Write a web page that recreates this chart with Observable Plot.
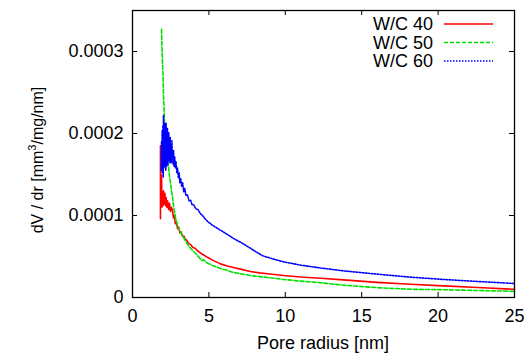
<!DOCTYPE html>
<html>
<head>
<meta charset="utf-8">
<script src="https://cdn.jsdelivr.net/npm/d3@7"></script>
<script src="https://cdn.jsdelivr.net/npm/@observablehq/plot@0.6"></script>
<style>
  html, body { margin: 0; padding: 0; background: #fff; }
  #chart svg { display: block; font-family: "Liberation Sans", Arial, Helvetica, sans-serif; }
</style>
</head>
<body>
<div id="chart"></div>
<script>
// ---- data ----
const seriesNames = ["W/C 40", "W/C 50", "W/C 60"];
const xTicks = [0, 5, 10, 15, 20, 25];
const yTicks = [0, 0.0001, 0.0002, 0.0003];
const yTickLabels = ["0", "0.0001", "0.0002", "0.0003"];

const r40 = [1.83, 1.83, 1.86, 1.90, 1.93, 1.96, 2.00, 2.03, 2.08, 2.12, 2.16, 2.20, 2.25, 2.30, 2.36, 2.42, 2.49, 2.55, 2.62, 2.68, 2.74, 2.80, 2.87, 2.95, 3.02, 3.10, 3.18, 3.27, 3.36, 3.45, 3.55, 3.66, 3.80, 3.95, 4.10, 4.25, 4.55, 4.91, 5.3, 5.76, 6.2, 6.61, 7.2, 7.72, 8.3, 8.84, 9.88, 11.0, 12.3, 13.8, 16.0, 18.2, 20.35, 22.6, 25.0];
const dv40 = [0.96e-4, 1.85e-4, 1.20e-4, 1.49e-4, 1.10e-4, 1.28e-4, 1.12e-4, 1.30e-4, 1.14e-4, 1.27e-4, 1.12e-4, 1.22e-4, 1.10e-4, 1.18e-4, 1.07e-4, 1.15e-4, 1.05e-4, 1.10e-4, 1.06e-4, 0.97e-4, 1.00e-4, 0.90e-4, 0.92e-4, 0.84e-4, 0.86e-4, 0.79e-4, 0.80e-4, 0.75e-4, 0.75e-4, 0.71e-4, 0.70e-4, 0.66e-4, 0.645e-4, 0.61e-4, 0.60e-4, 0.57e-4, 0.53e-4, 0.49e-4, 0.45e-4, 0.41e-4, 0.385e-4, 0.366e-4, 0.34e-4, 0.317e-4, 0.30e-4, 0.29e-4, 0.268e-4, 0.25e-4, 0.235e-4, 0.215e-4, 0.185e-4, 0.162e-4, 0.142e-4, 0.122e-4, 0.10e-4];

const r50 = [1.90, 1.93, 1.96, 2.00, 2.03, 2.06, 2.09, 2.13, 2.16, 2.22, 2.29, 2.36, 2.42, 2.49, 2.55, 2.62, 2.70, 2.81, 2.90, 3.01, 3.15, 3.34, 3.50, 3.66, 3.90, 4.12, 4.40, 4.55, 4.65, 4.9, 5.24, 5.76, 6.2, 6.61, 7.72, 8.84, 9.88, 11.0, 12.3, 13.8, 16.0, 18.2, 20.35, 22.6, 25.0];
const dv50 = [3.27e-4, 3.05e-4, 2.89e-4, 2.70e-4, 2.44e-4, 2.35e-4, 2.16e-4, 2.02e-4, 1.91e-4, 1.78e-4, 1.67e-4, 1.59e-4, 1.48e-4, 1.40e-4, 1.30e-4, 1.22e-4, 1.10e-4, 0.98e-4, 0.91e-4, 0.85e-4, 0.79e-4, 0.73e-4, 0.68e-4, 0.63e-4, 0.58e-4, 0.54e-4, 0.48e-4, 0.45e-4, 0.46e-4, 0.42e-4, 0.39e-4, 0.354e-4, 0.33e-4, 0.305e-4, 0.268e-4, 0.244e-4, 0.22e-4, 0.20e-4, 0.18e-4, 0.15e-4, 0.12e-4, 0.10e-4, 0.095e-4, 0.085e-4, 0.075e-4];

const r60 = [1.88, 1.90, 1.92, 1.94, 1.96, 1.99, 2.01, 2.03, 2.06, 2.08, 2.09, 2.12, 2.14, 2.16, 2.18, 2.20, 2.23, 2.25, 2.27, 2.29, 2.31, 2.34, 2.36, 2.38, 2.40, 2.43, 2.45, 2.47, 2.49, 2.52, 2.55, 2.58, 2.60, 2.63, 2.66, 2.69, 2.72, 2.76, 2.81, 2.85, 2.90, 2.95, 3.00, 3.05, 3.10, 3.16, 3.22, 3.28, 3.35, 3.42, 3.50, 3.60, 3.70, 3.80, 3.90, 4.00, 4.15, 4.30, 4.45, 4.58, 4.75, 4.9, 5.24, 5.76, 6.2, 6.61, 7.2, 7.72, 8.1, 8.51, 9.2, 9.88, 11.0, 12.3, 13.8, 16.0, 18.2, 20.35, 22.6, 25.0];
const dv60 = [1.55e-4, 1.90e-4, 1.62e-4, 2.04e-4, 1.52e-4, 2.10e-4, 1.47e-4, 2.22e-4, 1.60e-4, 2.05e-4, 1.67e-4, 2.12e-4, 1.58e-4, 2.00e-4, 1.55e-4, 2.13e-4, 1.60e-4, 1.98e-4, 1.70e-4, 2.06e-4, 1.62e-4, 1.96e-4, 1.66e-4, 2.01e-4, 1.68e-4, 1.92e-4, 1.64e-4, 1.95e-4, 1.67e-4, 1.86e-4, 1.64e-4, 1.91e-4, 1.70e-4, 1.80e-4, 1.62e-4, 1.79e-4, 1.60e-4, 1.72e-4, 1.58e-4, 1.66e-4, 1.52e-4, 1.58e-4, 1.46e-4, 1.52e-4, 1.40e-4, 1.45e-4, 1.35e-4, 1.40e-4, 1.29e-4, 1.33e-4, 1.24e-4, 1.25e-4, 1.18e-4, 1.19e-4, 1.13e-4, 1.13e-4, 1.08e-4, 1.07e-4, 1.02e-4, 1.00e-4, 0.96e-4, 0.93e-4, 0.88e-4, 0.82e-4, 0.77e-4, 0.72e-4, 0.66e-4, 0.60e-4, 0.555e-4, 0.51e-4, 0.47e-4, 0.435e-4, 0.395e-4, 0.36e-4, 0.325e-4, 0.285e-4, 0.248e-4, 0.22e-4, 0.195e-4, 0.171e-4];

const colors = ["#ff0000", "#00e000", "#0000ff"];
const dashes = [null, "4,2", "1.5,1.5"];

// ---- build tables ----
const toRows = (rs, vs) => rs.map((r, i) => ({r, v: vs[i]}));
const d40 = toRows(r40, dv40), d50 = toRows(r50, dv50), d60 = toRows(r60, dv60);

const W = 532, H = 356;
const mL = 132, mR = 18, mT = 10, mB = 59;
const pw = W - mL - mR, ph = H - mT - mB;
const tickFont = 18;

const chart = Plot.plot({
  width: W, height: H,
  marginLeft: mL, marginRight: mR, marginTop: mT, marginBottom: mB,
  style: {fontFamily: '"Liberation Sans", Arial, Helvetica, sans-serif', fontSize: tickFont + "px", color: "#000", background: "#fff"},
  x: {domain: [0, 25]},
  y: {domain: [0, 0.00035]},
  marks: [
    Plot.axisX(xTicks, {tickSize: 0, tickPadding: 12, label: null, fontSize: tickFont}),
    Plot.axisY(yTicks, {tickSize: 0, tickPadding: 9, label: null, fontSize: tickFont,
      tickFormat: (d) => yTickLabels[yTicks.indexOf(d)]}),
    // inward ticks on all four sides
    Plot.tickX(xTicks, {x: d => d, insetTop: ph - 5, stroke: "#000", strokeWidth: 1}),
    Plot.tickX(xTicks, {x: d => d, insetBottom: ph - 5, stroke: "#000", strokeWidth: 1}),
    Plot.tickY(yTicks, {y: d => d, insetRight: pw - 5, stroke: "#000", strokeWidth: 1}),
    Plot.tickY(yTicks, {y: d => d, insetLeft: pw - 5, stroke: "#000", strokeWidth: 1}),
    Plot.line(d40, {x: "r", y: "v", stroke: colors[0], strokeWidth: 1.6}),
    Plot.line(d50, {x: "r", y: "v", stroke: colors[1], strokeWidth: 1.6, strokeDasharray: dashes[1]}),
    Plot.line(d60, {x: "r", y: "v", stroke: colors[2], strokeWidth: 1.6, strokeDasharray: dashes[2]}),
    Plot.frame({stroke: "#000", strokeWidth: 1.3})
  ]
});
document.getElementById("chart").appendChild(chart);

// ---- titles and legend ----
const svg = d3.select(chart);
svg.append("text")
  .attr("x", mL + pw / 2).attr("y", 349)
  .attr("text-anchor", "middle")
  .attr("font-size", 18).attr("fill", "#000")
  .text("Pore radius [nm]");

const yt = svg.append("text")
  .attr("transform", "translate(43,160) rotate(-90)")
  .attr("text-anchor", "middle")
  .attr("font-size", 16).attr("fill", "#000");
yt.append("tspan").text("dV / dr [mm");
yt.append("tspan").attr("font-size", 11).attr("dy", -7).text("3");
yt.append("tspan").attr("dy", 7).text("/mg/nm]");

const legendY = [24, 42.5, 61];
seriesNames.forEach((name, i) => {
  svg.append("text")
    .attr("x", 433).attr("y", legendY[i] + 6)
    .attr("text-anchor", "end")
    .attr("font-size", 18).attr("fill", "#000")
    .text(name);
  const ln = svg.append("line")
    .attr("x1", 444).attr("x2", 493)
    .attr("y1", legendY[i]).attr("y2", legendY[i])
    .attr("stroke", colors[i]).attr("stroke-width", 1.5);
  if (dashes[i]) ln.attr("stroke-dasharray", dashes[i]);
});
</script>
</body>
</html>
